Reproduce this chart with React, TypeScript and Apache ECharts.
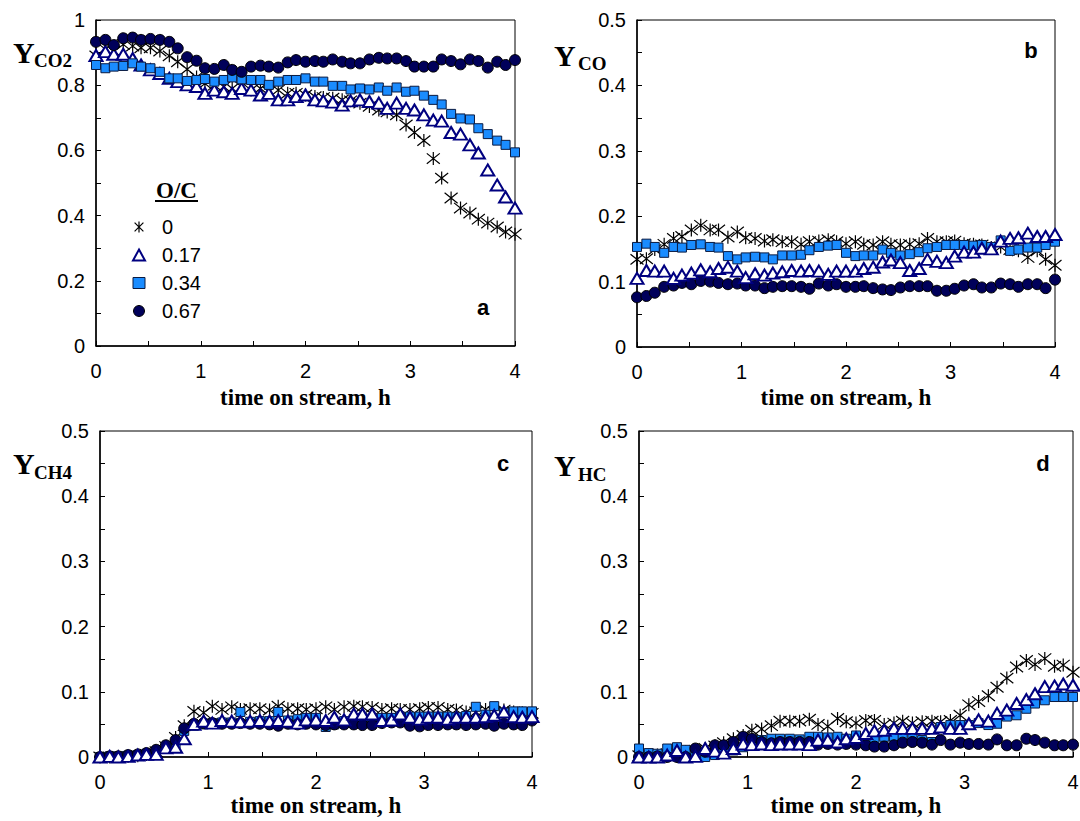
import { useEffect, useRef } from 'react';
import * as echarts from 'echarts';

// time on stream, h
const times = [
  0, 0.09, 0.17, 0.26, 0.35, 0.43, 0.52, 0.61, 0.70, 0.78,
  0.87, 0.96, 1.04, 1.13, 1.22, 1.30, 1.39, 1.48, 1.57, 1.65,
  1.74, 1.83, 1.91, 2.00, 2.09, 2.17, 2.26, 2.35, 2.43, 2.52,
  2.61, 2.70, 2.78, 2.87, 2.96, 3.04, 3.13, 3.22, 3.30, 3.39,
  3.48, 3.57, 3.65, 3.74, 3.83, 3.91, 4.00,
];

const seriesNames = ['0', '0.17', '0.34', '0.67'];
const xTicks = [0, 1, 2, 3, 4];

// Panel a: Y_CO2
const yCO2_0 = [
  0.89, 0.91, 0.905, 0.925, 0.92, 0.915, 0.915, 0.905, 0.89, 0.872,
  0.849, 0.825, 0.805, 0.80, 0.795, 0.79, 0.795, 0.785, 0.79, 0.78,
  0.785, 0.775, 0.775, 0.77, 0.765, 0.762, 0.76, 0.755, 0.752, 0.745,
  0.735, 0.724, 0.718, 0.709, 0.678, 0.655, 0.630, 0.575, 0.515, 0.454,
  0.423, 0.408, 0.389, 0.377, 0.365, 0.350, 0.343,
];
const yCO2_017 = [
  0.891, 0.903, 0.895, 0.895, 0.882, 0.862, 0.847, 0.836, 0.821, 0.811,
  0.801, 0.796, 0.775, 0.785, 0.780, 0.775, 0.790, 0.785, 0.770, 0.775,
  0.755, 0.755, 0.765, 0.770, 0.755, 0.752, 0.748, 0.739, 0.752, 0.755,
  0.750, 0.745, 0.729, 0.745, 0.729, 0.724, 0.709, 0.693, 0.690, 0.655,
  0.650, 0.617, 0.592, 0.540, 0.494, 0.457, 0.423,
];
const yCO2_034 = [
  0.862, 0.852, 0.857, 0.859, 0.867, 0.857, 0.852, 0.841, 0.821, 0.821,
  0.813, 0.816, 0.819, 0.811, 0.816, 0.824, 0.818, 0.816, 0.816, 0.801,
  0.811, 0.816, 0.816, 0.821, 0.811, 0.811, 0.798, 0.798, 0.787, 0.790,
  0.787, 0.793, 0.783, 0.793, 0.780, 0.783, 0.768, 0.755, 0.741, 0.712,
  0.698, 0.695, 0.668, 0.650, 0.630, 0.617, 0.594,
];
const yCO2_067 = [
  0.933, 0.939, 0.923, 0.944, 0.946, 0.939, 0.942, 0.939, 0.933, 0.913,
  0.886, 0.875, 0.852, 0.850, 0.862, 0.847, 0.841, 0.857, 0.860, 0.857,
  0.854, 0.870, 0.877, 0.872, 0.874, 0.872, 0.879, 0.872, 0.867, 0.867,
  0.879, 0.884, 0.882, 0.882, 0.874, 0.857, 0.857, 0.857, 0.879, 0.874,
  0.864, 0.879, 0.874, 0.854, 0.872, 0.862, 0.877,
];

// Panel b: Y_CO
const yCO_0 = [
  0.134, 0.135, 0.149, 0.157, 0.166, 0.169, 0.179, 0.186, 0.179, 0.179,
  0.168, 0.176, 0.167, 0.166, 0.162, 0.164, 0.161, 0.161, 0.157, 0.161,
  0.162, 0.164, 0.161, 0.158, 0.161, 0.157, 0.156, 0.161, 0.157, 0.156,
  0.157, 0.158, 0.166, 0.161, 0.161, 0.162, 0.158, 0.157, 0.156, 0.152,
  0.153, 0.149, 0.147, 0.137, 0.147, 0.134, 0.125,
];
const yCO_017 = [
  0.105, 0.117, 0.116, 0.116, 0.105, 0.110, 0.113, 0.118, 0.115, 0.120,
  0.122, 0.116, 0.106, 0.112, 0.110, 0.113, 0.115, 0.117, 0.116, 0.117,
  0.116, 0.111, 0.116, 0.116, 0.116, 0.120, 0.122, 0.130, 0.133, 0.129,
  0.117, 0.120, 0.134, 0.131, 0.129, 0.139, 0.145, 0.145, 0.151, 0.150,
  0.162, 0.166, 0.167, 0.174, 0.169, 0.169, 0.172,
];
const yCO_034 = [
  0.153, 0.158, 0.153, 0.144, 0.153, 0.152, 0.156, 0.157, 0.153, 0.152,
  0.139, 0.134, 0.137, 0.138, 0.137, 0.134, 0.140, 0.140, 0.141, 0.148,
  0.153, 0.155, 0.156, 0.144, 0.139, 0.140, 0.140, 0.149, 0.144, 0.140,
  0.142, 0.145, 0.151, 0.153, 0.156, 0.156, 0.156, 0.155, 0.156, 0.153,
  0.163, 0.147, 0.149, 0.152, 0.152, 0.156, 0.161,
];
const yCO_067 = [
  0.076, 0.078, 0.083, 0.092, 0.094, 0.098, 0.096, 0.101, 0.100, 0.098,
  0.096, 0.097, 0.094, 0.094, 0.090, 0.092, 0.093, 0.093, 0.092, 0.089,
  0.097, 0.094, 0.096, 0.092, 0.092, 0.093, 0.090, 0.088, 0.087, 0.091,
  0.093, 0.093, 0.093, 0.086, 0.086, 0.089, 0.094, 0.096, 0.091, 0.091,
  0.097, 0.096, 0.092, 0.096, 0.096, 0.090, 0.103,
];

// Panel c: Y_CH4
const yCH4_0 = [
  0, 0, 0.001, 0.001, 0.002, 0.004, 0.008, 0.016, 0.030, 0.048,
  0.070, 0.068, 0.078, 0.073, 0.077, 0.073, 0.074, 0.074, 0.072, 0.078,
  0.074, 0.074, 0.073, 0.074, 0.077, 0.073, 0.077, 0.078, 0.077, 0.076,
  0.073, 0.074, 0.073, 0.073, 0.074, 0.076, 0.076, 0.073, 0.072, 0.069,
  0.069, 0.073, 0.069, 0.072, 0.069, 0.068, 0.067,
];
const yCH4_017 = [
  0, 0.001, 0, 0.001, 0.003, 0.004, 0.004, 0.014, 0.015, 0.028,
  0.050, 0.055, 0.052, 0.056, 0.055, 0.054, 0.055, 0.056, 0.055, 0.056,
  0.055, 0.052, 0.057, 0.057, 0.056, 0.061, 0.057, 0.066, 0.066, 0.066,
  0.056, 0.057, 0.066, 0.061, 0.058, 0.061, 0.061, 0.058, 0.061, 0.061,
  0.061, 0.062, 0.064, 0.069, 0.062, 0.061, 0.062,
];
const yCH4_034 = [
  0, 0.001, 0.001, 0.002, 0.003, 0.005, 0.008, 0.014, 0.020, 0.040,
  0.048, 0.050, 0.052, 0.053, 0.053, 0.069, 0.054, 0.055, 0.055, 0.069,
  0.056, 0.058, 0.060, 0.060, 0.046, 0.050, 0.055, 0.058, 0.060, 0.058,
  0.060, 0.060, 0.062, 0.062, 0.062, 0.062, 0.062, 0.062, 0.061, 0.063,
  0.077, 0.065, 0.078, 0.068, 0.070, 0.070, 0.070,
];
const yCH4_067 = [
  0, 0.001, 0.001, 0.003, 0.004, 0.006, 0.011, 0.018, 0.026, 0.044,
  0.051, 0.052, 0.052, 0.051, 0.051, 0.052, 0.051, 0.051, 0.050, 0.048,
  0.051, 0.050, 0.051, 0.050, 0.049, 0.050, 0.050, 0.050, 0.049, 0.049,
  0.052, 0.053, 0.053, 0.048, 0.047, 0.049, 0.049, 0.050, 0.050, 0.049,
  0.050, 0.051, 0.048, 0.051, 0.050, 0.049, 0.056,
];

// Panel d: Y_HC
const yHC_0 = [
  0.002, 0.002, 0.003, 0.005, 0.006, 0.008, 0.010, 0.013, 0.017, 0.022,
  0.028, 0.033, 0.041, 0.043, 0.048, 0.055, 0.055, 0.055, 0.058, 0.050,
  0.047, 0.059, 0.054, 0.052, 0.056, 0.056, 0.050, 0.052, 0.055, 0.052,
  0.054, 0.055, 0.054, 0.056, 0.064, 0.080, 0.085, 0.094, 0.107, 0.121,
  0.138, 0.148, 0.142, 0.151, 0.139, 0.141, 0.130,
];
const yHC_017 = [
  0.000, 0.000, 0.000, 0.003, 0.010, 0.000, 0.001, 0.013, 0.009, 0.006,
  0.013, 0.020, 0.019, 0.020, 0.019, 0.020, 0.020, 0.020, 0.019, 0.026,
  0.026, 0.023, 0.028, 0.030, 0.036, 0.040, 0.041, 0.044, 0.044, 0.044,
  0.044, 0.044, 0.046, 0.044, 0.044, 0.051, 0.057, 0.055, 0.067, 0.072,
  0.082, 0.088, 0.097, 0.108, 0.109, 0.112, 0.110,
];
const yHC_034 = [
  0.013, 0.006, 0.005, 0.013, 0.015, 0.011, 0.005, 0.000, 0.003, 0.006,
  0.010, 0.015, 0.026, 0.026, 0.028, 0.028, 0.028, 0.027, 0.031, 0.031,
  0.030, 0.031, 0.028, 0.033, 0.023, 0.026, 0.031, 0.031, 0.033, 0.031,
  0.026, 0.023, 0.046, 0.049, 0.049, 0.049, 0.052, 0.049, 0.051, 0.062,
  0.064, 0.074, 0.082, 0.087, 0.092, 0.092, 0.092,
];
const yHC_067 = [
  0.000, 0.000, 0.001, 0.000, 0.000, 0.000, 0.013, 0.008, 0.018, 0.018,
  0.023, 0.031, 0.028, 0.023, 0.021, 0.023, 0.023, 0.023, 0.023, 0.019,
  0.020, 0.019, 0.020, 0.019, 0.018, 0.016, 0.016, 0.018, 0.022, 0.023,
  0.022, 0.019, 0.026, 0.019, 0.022, 0.020, 0.020, 0.019, 0.027, 0.018,
  0.018, 0.028, 0.026, 0.022, 0.018, 0.018, 0.019,
];

const STAR = 'path://M2,2 L18,18 M2,18 L18,2 M10,0 L10,20';

const markerStyles: any[] = [
  { symbol: STAR, symbolSize: 13, itemStyle: { color: 'rgba(0,0,0,0)', borderColor: '#000', borderWidth: 1.2, opacity: 1 } },
  { symbol: 'triangle', symbolSize: [13, 11], itemStyle: { color: '#ffffff', borderColor: '#000080', borderWidth: 2, opacity: 1 } },
  { symbol: 'rect', symbolSize: 9, itemStyle: { color: '#1a8cff', borderColor: '#0a1a40', borderWidth: 1, opacity: 1 } },
  { symbol: 'circle', symbolSize: 11, itemStyle: { color: '#00005a', borderColor: '#000', borderWidth: 1, opacity: 1 } },
];

const panels = [
  { grid: { left: 96, top: 20, width: 419, height: 326 }, yMax: 1, yInterval: 0.2, nameGap: 40,
    data: [yCO2_0, yCO2_017, yCO2_034, yCO2_067], z: [1, 2, 3, 4] },
  { grid: { left: 637, top: 20, width: 418, height: 327 }, yMax: 0.5, yInterval: 0.1, nameGap: 39,
    data: [yCO_0, yCO_017, yCO_034, yCO_067], z: [1, 4, 2, 3] },
  { grid: { left: 100, top: 431, width: 432, height: 326 }, yMax: 0.5, yInterval: 0.1, nameGap: 37,
    data: [yCH4_0, yCH4_017, yCH4_034, yCH4_067], z: [1, 4, 2, 3] },
  { grid: { left: 639, top: 431, width: 434, height: 326 }, yMax: 0.5, yInterval: 0.1, nameGap: 37,
    data: [yHC_0, yHC_017, yHC_034, yHC_067], z: [1, 4, 2, 3] },
];

const serif = 'Liberation Serif';
const sans = 'Liberation Sans';

function yLabel(x: number, y: number, sub: string, subX: number, subY: number): any[] {
  return [
    { type: 'text', x, y, style: { text: 'Y', fontSize: 30, fontWeight: 'bold', fontFamily: serif, fill: '#000', verticalAlign: 'middle', textVerticalAlign: 'middle' } },
    { type: 'text', x: subX, y: subY, style: { text: sub, fontSize: 19, fontWeight: 'bold', fontFamily: serif, fill: '#000', verticalAlign: 'middle', textVerticalAlign: 'middle' } },
  ];
}

function panelLetter(t: string, x: number, y: number): any {
  return { type: 'text', x, y, style: { text: t, fontSize: 22, fontWeight: 'bold', fontFamily: sans, fill: '#000', align: 'center', textAlign: 'center', verticalAlign: 'middle', textVerticalAlign: 'middle' } };
}

export default function App() {
  const ref = useRef<HTMLDivElement>(null);
  useEffect(() => {
    document.body.style.margin = '0';
    const chart = echarts.init(ref.current!, null, { renderer: 'svg' });
    const grids = panels.map((p) => ({ ...p.grid, show: true, borderColor: '#000', borderWidth: 1, backgroundColor: 'transparent', containLabel: false, outerBoundsMode: 'none' }));
    const xAxes = panels.map((p, i) => ({
      type: 'value', gridIndex: i, min: xTicks[0], max: xTicks[xTicks.length - 1], interval: 1,
      axisLine: { show: true, onZero: false, lineStyle: { color: '#000', width: 1.5 } },
      axisTick: { show: true, inside: true, length: 5, lineStyle: { color: '#000' } },
      minorTick: { show: true, splitNumber: 2, length: 5, lineStyle: { color: '#000' } },
      splitLine: { show: false },
      minorSplitLine: { show: false },
      axisLabel: { fontSize: 20, color: '#000', fontFamily: sans, margin: 15 },
      name: 'time on stream, h', nameLocation: 'middle', nameGap: p.nameGap,
      nameTextStyle: { fontFamily: serif, fontWeight: 'bold', fontSize: 23, color: '#000' },
    }));
    const yAxes = panels.map((p, i) => ({
      type: 'value', gridIndex: i, min: 0, max: p.yMax, interval: p.yInterval,
      axisLine: { show: true, onZero: false, lineStyle: { color: '#000', width: 1.5 } },
      axisTick: { show: true, inside: true, length: 5, lineStyle: { color: '#000' } },
      minorTick: { show: true, splitNumber: 2, length: 5, lineStyle: { color: '#000' } },
      splitLine: { show: false },
      minorSplitLine: { show: false },
      axisLabel: { fontSize: 20, color: '#000', fontFamily: sans, margin: 11 },
    }));
    const series: any[] = [];
    panels.forEach((p, gi) => {
      p.data.forEach((arr, si) => {
        series.push({
          type: 'scatter', name: seriesNames[si], xAxisIndex: gi, yAxisIndex: gi,
          z: 2 + p.z[si], clip: false,
          ...markerStyles[si],
          emphasis: { disabled: true },
          data: times.map((t, k) => [t, arr[k]]),
        });
      });
    });
    const graphic: any[] = [
      ...yLabel(13, 52, 'CO2', 34, 60),
      ...yLabel(554, 55, 'CO', 578, 63),
      ...yLabel(13, 463, 'CH4', 34, 472),
      ...yLabel(554, 465, 'HC', 578, 474),
      panelLetter('a', 483, 307),
      panelLetter('b', 1031, 50),
      panelLetter('c', 503, 463),
      panelLetter('d', 1043, 463),
      { type: 'text', x: 176.5, y: 190.5, style: { text: 'O/C', fontSize: 23, fontWeight: 'bold', fontFamily: serif, fill: '#000', align: 'center', textAlign: 'center', verticalAlign: 'middle', textVerticalAlign: 'middle' } },
      { type: 'line', shape: { x1: 155, y1: 201, x2: 198, y2: 201 }, style: { stroke: '#000', lineWidth: 2 } },
    ];
    chart.setOption({
      animation: false,
      backgroundColor: '#fff',
      grid: grids,
      xAxis: xAxes,
      yAxis: yAxes,
      legend: {
        data: seriesNames, orient: 'vertical', left: 127, top: 212,
        itemWidth: 12, itemHeight: 11, itemGap: 8, selectedMode: false,
        itemStyle: { borderWidth: 'inherit', opacity: 1 },
        textStyle: { fontSize: 20, fontFamily: sans, color: '#000', padding: [0, 0, 0, 12] },
      },
      graphic,
      series,
    });
    return () => chart.dispose();
  }, []);
  return <div ref={ref} style={{ width: 1080, height: 821, position: 'absolute', left: 0, top: 0 }} />;
}
